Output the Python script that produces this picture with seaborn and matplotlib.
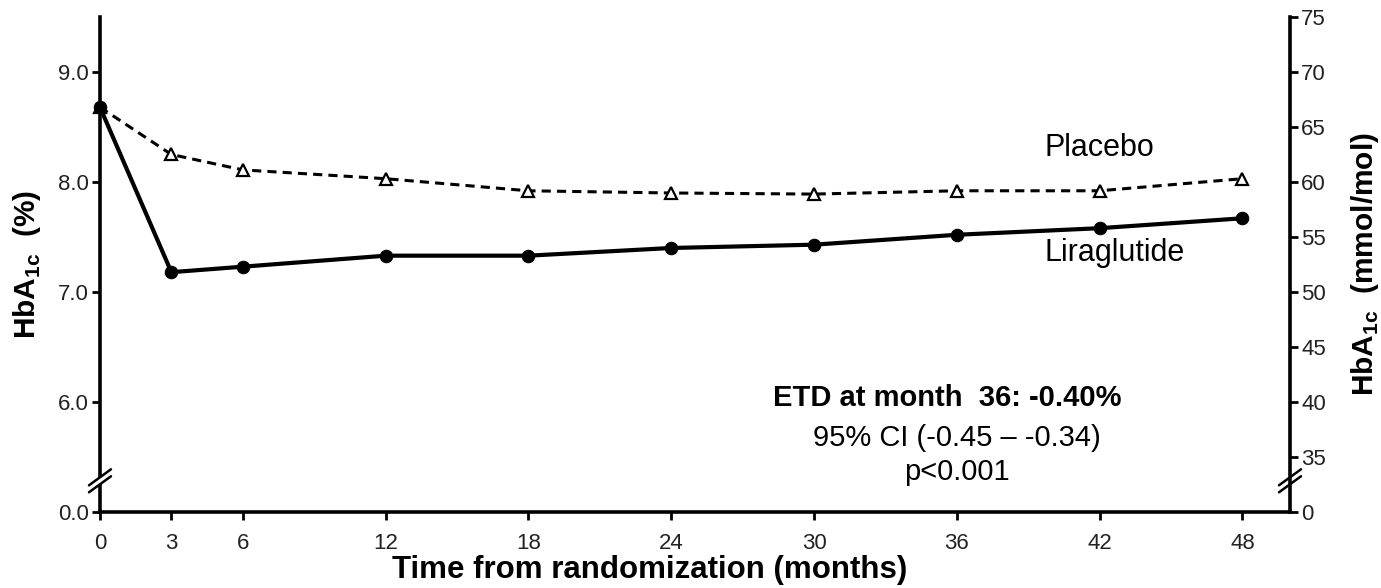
import matplotlib
matplotlib.use("Agg")
import matplotlib.pyplot as plt
import seaborn as sns
import pandas as pd

# ---- data ----
months = [0, 3, 6, 12, 18, 24, 30, 36, 42, 48]
liraglutide = [8.68, 7.18, 7.23, 7.33, 7.33, 7.40, 7.43, 7.52, 7.58, 7.67]
placebo = [8.68, 8.25, 8.11, 8.03, 7.92, 7.90, 7.89, 7.92, 7.92, 8.03]

x_ticks = [0, 3, 6, 12, 18, 24, 30, 36, 42, 48]
left_ticks = [5.0, 6.0, 7.0, 8.0, 9.0]            # 5.0 position shows the broken-axis "0.0"
left_tick_labels = ["0.0", "6.0", "7.0", "8.0", "9.0"]
right_ticks = [30, 35, 40, 45, 50, 55, 60, 65, 70, 75]   # 30 position shows the broken-axis "0"
right_tick_labels = ["0", "35", "40", "45", "50", "55", "60", "65", "70", "75"]

sns.set_style("ticks")
plt.rcParams["font.family"] = ["Liberation Sans", "DejaVu Sans"]
plt.rcParams["mathtext.fontset"] = "custom"
plt.rcParams["mathtext.rm"] = "Liberation Sans"
plt.rcParams["mathtext.bf"] = "Liberation Sans:bold"
plt.rcParams["text.color"] = "black"
plt.rcParams["axes.labelcolor"] = "black"

df_lira = pd.DataFrame({"month": months, "hba1c": liraglutide})
df_plac = pd.DataFrame({"month": months, "hba1c": placebo})

fig = plt.figure(figsize=(13.81, 5.88), dpi=100)
ax = fig.add_axes([0.0724, 0.1293, 0.8617, 0.8418])

sns.lineplot(data=df_plac, x="month", y="hba1c", ax=ax, color="black",
             linewidth=2.2, linestyle=(0, (3, 2)), marker="^", markersize=8,
             markerfacecolor="white", markeredgecolor="black", markeredgewidth=1.6)
sns.lineplot(data=df_lira, x="month", y="hba1c", ax=ax, color="black",
             linewidth=3.0, marker="o", markersize=9,
             markerfacecolor="black", markeredgecolor="black")
for ln in ax.lines:
    ln.set_clip_on(False)

ax.set_xlim(0, 50)
ax.set_ylim(5.0, 9.5)
ax.set_xticks(x_ticks)
ax.set_xticklabels([str(v) for v in x_ticks])
ax.set_yticks(left_ticks)
ax.set_yticklabels(left_tick_labels)

ax2 = ax.twinx()
ax2.set_ylim(30, 75)
ax2.set_yticks(right_ticks)
ax2.set_yticklabels(right_tick_labels)

for a in (ax, ax2):
    for s in a.spines.values():
        s.set_linewidth(2.6)
        s.set_color("black")
    a.spines["top"].set_visible(False)
ax.spines["right"].set_visible(False)
ax2.spines["left"].set_visible(False)
ax2.spines["bottom"].set_visible(False)

ax.tick_params(axis="x", direction="out", length=6, width=2, labelsize=16,
               labelcolor="#222222", color="black", pad=9)
ax.tick_params(axis="y", direction="out", length=6, width=2, labelsize=16,
               labelcolor="#222222", color="black", pad=2)
ax2.tick_params(axis="y", direction="out", length=6, width=2, labelsize=16,
                labelcolor="#222222", color="black", pad=2)

ax.set_xlabel("Time from randomization (months)", fontsize=22.5, fontweight="bold")
ax.xaxis.label.set_va("center")
ax.xaxis.set_label_coords(0.462, -0.117)

ax.set_ylabel(r"HbA$_\mathregular{1c}$  (%)", fontsize=21.5, fontweight="bold")
ax.yaxis.label.set_va("center")
ax.yaxis.set_label_coords(-0.061, 0.5)

ax2.set_ylabel(r"HbA$_\mathregular{1c}$  (mmol/mol)", fontsize=21.5, fontweight="bold")
ax2.yaxis.label.set_va("center")
ax2.yaxis.set_label_coords(1.063, 0.5)

# series labels
ax.text(39.7, 8.31, "Placebo", fontsize=22, ha="left", va="center")
ax.text(39.7, 7.35, "Liraglutide", fontsize=22, ha="left", va="center")

# annotation
ax.text(35.6, 6.04, "ETD at month  36: -0.40%", fontsize=21, fontweight="bold",
        ha="center", va="center")
ax.text(36.0, 5.67, "95% CI (-0.45 \u2013 -0.34)", fontsize=21, ha="center", va="center")
ax.text(36.0, 5.36, "p<0.001", fontsize=21, ha="center", va="center")

# axis break marks (decoration)
w_px, h_px = 0.8617 * 1381, 0.8418 * 588
dx, dy = 11 / w_px, 8 / h_px
off = 3.5 / h_px
for xc in (0.0, 1.0):
    yc = 0.063
    ax.plot([xc - dx, xc + dx], [yc - dy, yc + dy], transform=ax.transAxes,
            color="white", lw=4.5, clip_on=False, zorder=10, solid_capstyle="butt")
    for s in (-off, off):
        ax.plot([xc - dx, xc + dx], [yc - dy + s, yc + dy + s], transform=ax.transAxes,
                color="black", lw=1.8, clip_on=False, zorder=11)

fig.savefig("out.png", dpi=100)
